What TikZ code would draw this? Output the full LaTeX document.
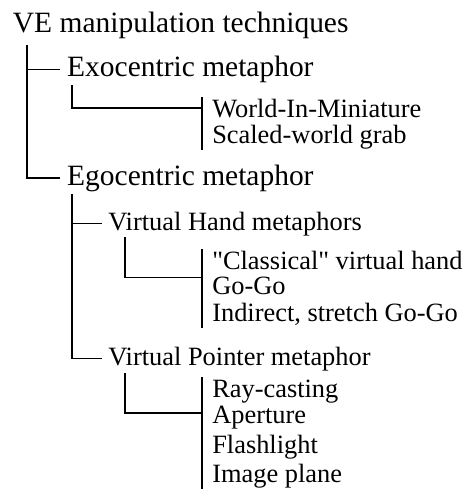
\documentclass[tikz,border=0pt]{standalone}
\usepackage{fontspec}
\setmainfont{Liberation Serif}[Ligatures=TeXOff]
\usetikzlibrary{calc}
\tikzset{
    rootlabel/.style={anchor=base west,inner xsep=0pt,inner ysep=0pt,
        font=\fontsize{22.1pt}{26pt}\selectfont,text height=16pt,text depth=5.5pt},
    topic/.style={anchor=base west,inner xsep=5pt,inner ysep=0pt,
        font=\fontsize{22.1pt}{26pt}\selectfont,text height=16pt,text depth=5.5pt},
    subtopic/.style={anchor=base west,inner xsep=4.5pt,inner ysep=0pt,
        font=\fontsize{19.8pt}{24pt}\selectfont,text height=14.8pt,text depth=5pt},
    leaf/.style={anchor=base west,inner xsep=7.5pt,inner ysep=0pt,
        font=\fontsize{19.8pt}{24pt}\selectfont,text height=14.8pt,text depth=5pt},
    branch/.style={draw=black,line width=1.4pt}
}
\begin{document}
\begin{tikzpicture}[x=0.75pt,y=-0.75pt]
    \useasboundingbox[fill=white] (0,0) rectangle (469,492);
    % headings
    \node[rootlabel] (root) at (12.7,33) {VE manipulation techniques};
    \node[topic] (exo) at (60.3,76.5) {Exocentric metaphor};
    \node[topic] (ego) at (60.3,185) {Egocentric metaphor};
    \node[subtopic] (hand) at (102,230) {Virtual Hand metaphors};
    \node[subtopic] (pointer) at (102,365) {Virtual Pointer metaphor};
    % techniques
    \node[leaf] (wim) at (202,117) {World-In-Miniature};
    \node[leaf] (grab) at (202,143) {Scaled-world grab};
    \node[leaf] (classic) at (202,269) {"Classical" virtual hand};
    \node[leaf] (gogo) at (202,294) {Go-Go};
    \node[leaf] (stretch) at (202,321) {Indirect, stretch Go-Go};
    \node[leaf] (ray) at (202,397) {Ray-casting};
    \node[leaf] (aperture) at (202,423) {Aperture};
    \node[leaf] (flash) at (202,453) {Flashlight};
    \node[leaf] (plane) at (202,482) {Image plane};
    % stems
    \coordinate (rootstem) at ($(root.south west)+(14.3,4)$);
    \coordinate (exostem) at ($(exo.south west)+(11.7,1)$);
    \coordinate (egostem) at ($(ego.south west)+(11.7,1)$);
    \coordinate (handstem) at ($(hand.south west)+(23,0.5)$);
    \coordinate (pointerstem) at ($(pointer.south west)+(23,1)$);
    \draw[branch] (rootstem) |- (ego.west);
    \draw[branch] (rootstem |- exo.west) -- (exo.west);
    \draw[branch] (exostem) |- ($(wim.west)+(0,-2.5)$);
    \draw[branch] (wim.north west) -- (grab.south west);
    \draw[branch] (egostem) |- (pointer.west);
    \draw[branch] (egostem |- hand.west) -- (hand.west);
    \draw[branch] (handstem) |- ($(classic.west)!0.6!(gogo.west)$);
    \draw[branch] (classic.north west) -- (stretch.south west);
    \draw[branch] (pointerstem) |- ($(ray.west)!0.85!(aperture.west)$);
    \draw[branch] (ray.north west) -- (plane.south west);
\end{tikzpicture}
\end{document}
